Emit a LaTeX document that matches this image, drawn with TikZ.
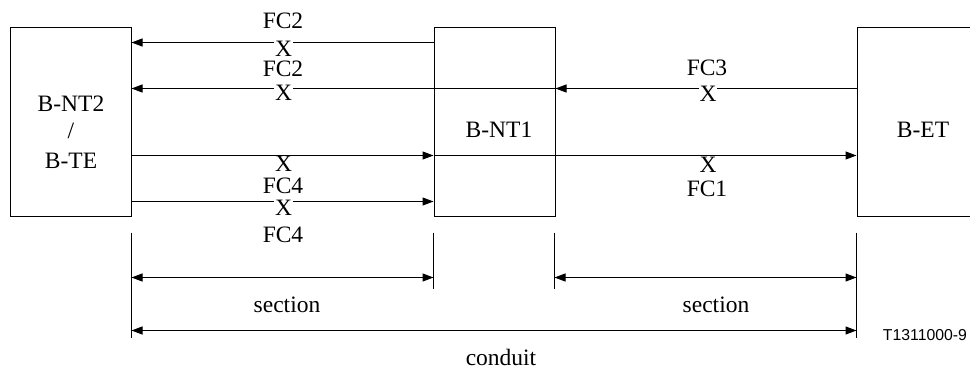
\documentclass[tikz,border=0pt]{standalone}
\usepackage{fontspec}
\setmainfont{Liberation Serif}
\setsansfont{Liberation Sans}
\usetikzlibrary{arrows.meta}
\begin{document}
\begin{tikzpicture}[x=1pt,y=-1pt,
  box/.style={draw, line width=1pt, inner sep=0pt, minimum height=188pt},
  arr/.style={line width=1pt, -{Triangle[length=11pt,width=8pt]}},
  dim/.style={line width=1pt, {Triangle[length=11pt,width=8pt]}-{Triangle[length=11pt,width=8pt]}},
  tick/.style={line width=1pt},
  txt/.style={font=\fontsize{23.5}{28}\selectfont, inner sep=0pt, anchor=base},
  xmark/.style={txt, fill=white, inner xsep=1pt},
  ref/.style={font=\sffamily\fontsize{15.8}{18}\selectfont, inner sep=0pt, anchor=base}]
\useasboundingbox (0,0) rectangle (970,369);
% boxes
\node[box, minimum width=121pt] (b1) at (70.5,122) {};
\node[box, minimum width=121pt] (b2) at (494.5,122) {};
\node[box, minimum width=132pt] (b3) at (923,122) {};
\node[txt] (t1a) at (71,112) {B-NT2};
\node[txt] (t1b) at (71,139) {/};
\node[txt] (t1c) at (71,168) {B-TE};
\node[txt] (t2) at (499,137) {B-NT1};
\node[txt] (t3) at (923,137) {B-ET};
% connectors
\draw[arr] ([yshift=-15pt]b2.north west) -- ([yshift=-15pt]b1.north east);
\draw[arr] ([yshift=-61pt]b3.north west) -- ([yshift=-61pt]b2.north east);
\draw[arr] ([yshift=-61pt]b2.north east) -- ([yshift=-61pt]b1.north east);
\draw[arr] ([yshift=-128pt]b1.north east) -- ([yshift=-128pt]b2.north west);
\draw[arr] ([yshift=-128pt]b2.north west) -- ([yshift=-128pt]b3.north west);
\draw[arr] ([yshift=-174pt]b1.north east) -- ([yshift=-174pt]b2.north west);
% labels
\node[txt] (l1) at (283,29) {FC2};
\node[xmark] (x1) at (283.5,57) {X};
\node[txt] (l2) at (283,77) {FC2};
\node[xmark] (x2) at (283.5,101) {X};
\node[xmark] (x3) at (283.5,171) {X};
\node[txt] (l3) at (283,193) {FC4};
\node[xmark] (x4) at (283.5,215) {X};
\node[txt] (l4) at (283,242) {FC4};
\node[txt] (r1) at (707,76) {FC3};
\node[xmark] (x5) at (708,102) {X};
\node[xmark] (x6) at (708,172) {X};
\node[txt] (r2) at (707,196) {FC1};
% dimension ticks
\coordinate (k1a) at ([yshift=-16pt]b1.south east);
\coordinate (k1b) at ([yshift=-121pt]b1.south east);
\coordinate (k2a) at ([yshift=-16pt]b2.south west);
\coordinate (k2b) at ([yshift=-72pt]b2.south west);
\coordinate (k3a) at ([shift={(-1pt,-16pt)}]b2.south east);
\coordinate (k3b) at ([shift={(-1pt,-72pt)}]b2.south east);
\coordinate (k4a) at ([yshift=-16pt]b3.south west);
\coordinate (k4b) at ([yshift=-121pt]b3.south west);
\draw[tick] (k1a) -- (k1b);
\draw[tick] (k2a) -- (k2b);
\draw[tick] (k3a) -- (k3b);
\draw[tick] (k4a) -- (k4b);
\draw[dim] ([yshift=-45pt]k1a) -- ([yshift=-45pt]k2a);
\draw[dim] ([yshift=-45pt]k3a) -- ([yshift=-45pt]k4a);
\draw[dim] ([yshift=-98pt]k1a) -- ([yshift=-98pt]k4a);
\node[txt] (s1) at (287,312) {section};
\node[txt] (s2) at (716,312) {section};
\node[txt] (c1) at (501,365) {conduit};
\node[ref] (id) at (925,340) {T1311000-9};
\end{tikzpicture}
\end{document}
